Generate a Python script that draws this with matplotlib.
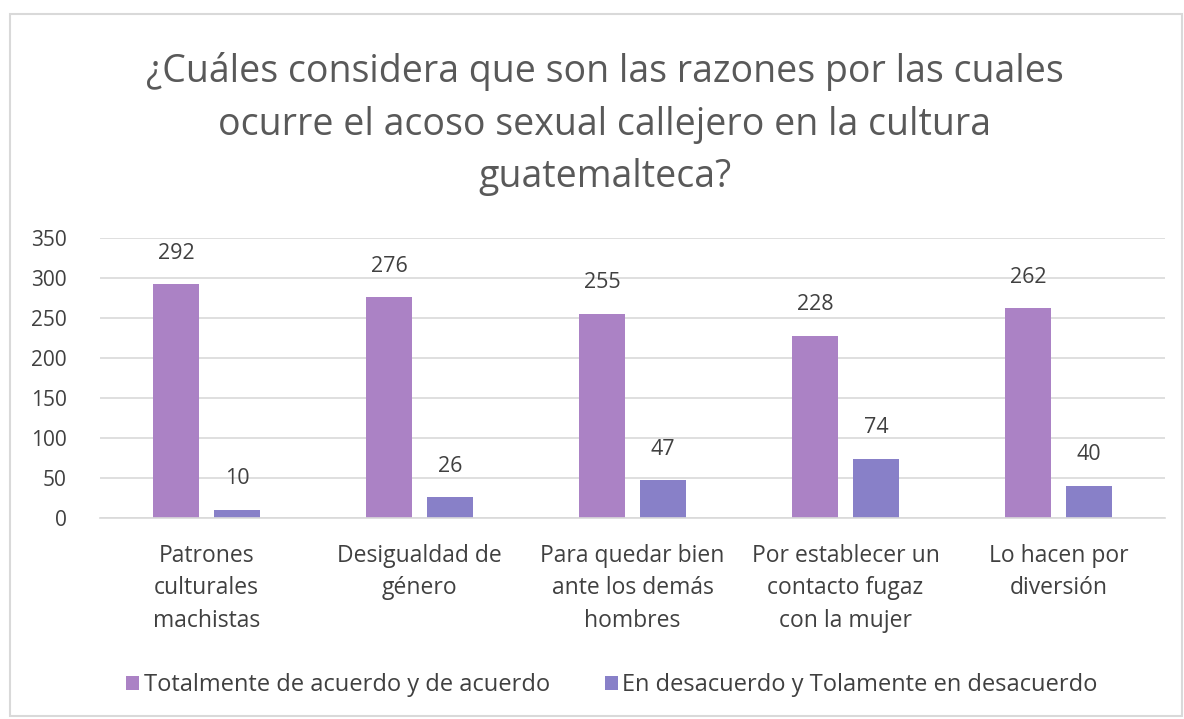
import matplotlib
matplotlib.use("Agg")
import matplotlib.pyplot as plt
import numpy as np

categories = ["Patrones\nculturales\nmachistas", "Desigualdad de\ngénero",
              "Para quedar bien\nante los demás\nhombres", "Por establecer un\ncontacto fugaz\ncon la mujer",
              "Lo hacen por\ndiversión"]
acuerdo = [292, 276, 255, 228, 262]
desacuerdo = [10, 26, 47, 74, 40]
series_names = ["Totalmente de acuerdo y de acuerdo", "En desacuerdo y Tolamente en desacuerdo"]
title = "¿Cuáles considera que son las razones por las cuales\nocurre el acoso sexual callejero en la cultura\nguatemalteca?"
yticks = [0, 50, 100, 150, 200, 250, 300, 350]

plt.rcParams['font.family'] = ['Open Sans', 'DejaVu Sans']
fig = plt.figure(figsize=(11.84, 7.19), dpi=100)
fig.patches.append(plt.Rectangle((10/1184, 1-716/719), 1172/1184, (716-14)/719, transform=fig.transFigure,
                                 fill=False, edgecolor="#D9D9D9", linewidth=1.5))
ax = fig.add_axes([100/1184, 1-518/719, 1065/1184, 280/719])
x = np.arange(len(categories))
w = 0.22
off = 0.143
c1, c2 = "#AB82C5", "#8880C8"
b1 = ax.bar(x - off, acuerdo, w, color=c1, label=series_names[0])
b2 = ax.bar(x + off, desacuerdo, w, color=c2, label=series_names[1])
for bars, vals in ((b1, acuerdo), (b2, desacuerdo)):
    for r, v in zip(bars, vals):
        ax.text(r.get_x() + r.get_width()/2, v + 39, str(v), ha="center", va="center",
                fontsize=15.5, color="#404040")
ax.set_xlim(-0.5, len(categories) - 0.5)
ax.set_ylim(0, 350)
ax.set_yticks(yticks)
ax.set_xticks(x)
ax.set_xticklabels(categories, fontsize=16.5, color="#404040", linespacing=1.45)
ax.tick_params(axis="y", labelsize=15, labelcolor="#404040", length=0, pad=24)
ax.tick_params(axis="x", length=0, pad=19)
ax.grid(axis="y", color="#D9D9D9", linewidth=1.2)
ax.set_axisbelow(True)
for s in ("top", "right", "left"):
    ax.spines[s].set_visible(False)
ax.spines["bottom"].set_color("#D9D9D9")
ax.spines["bottom"].set_linewidth(1.2)
fig.text(605/1184, 1-124/719, title, ha="center", va="center", fontsize=27, color="#595959", linespacing=1.5)
fig.legend(handles=[b1, b2], loc="center", bbox_to_anchor=(612/1184, 1-685/719), ncol=2, frameon=False,
           fontsize=17, labelcolor="#404040", handlelength=0.55, handleheight=0.55, handletextpad=0.2,
           columnspacing=2.3)
fig.savefig("out.png", dpi=100, facecolor="white")
